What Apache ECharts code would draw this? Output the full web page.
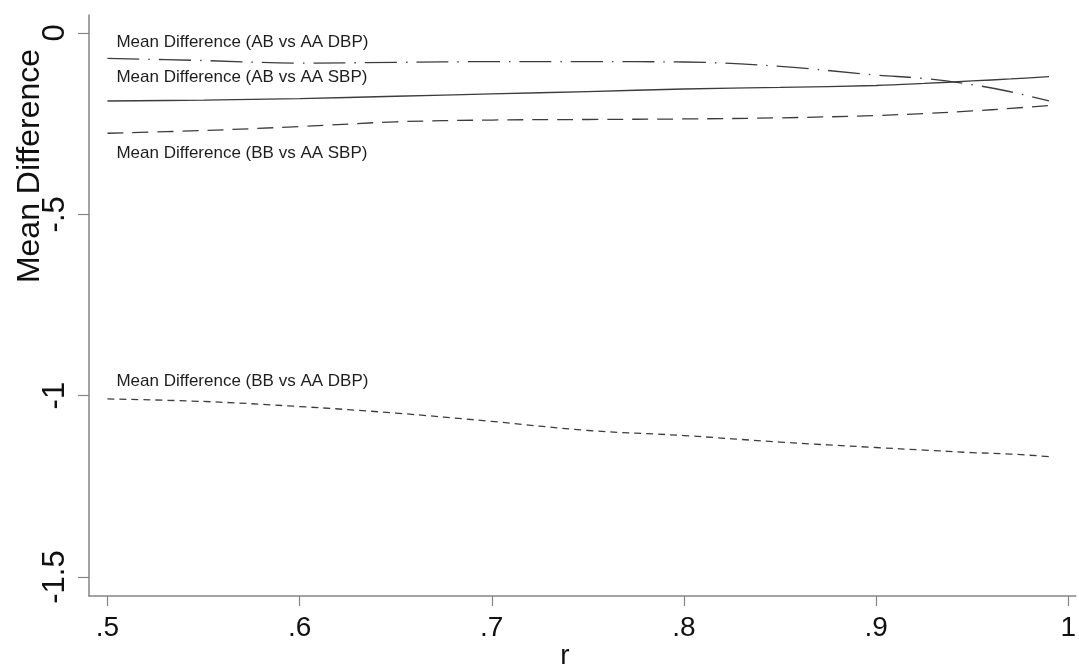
<!DOCTYPE html>
<html>
<head>
<meta charset="utf-8">
<script src="https://cdn.jsdelivr.net/npm/echarts@6/dist/echarts.min.js"></script>
<style>
html,body{margin:0;padding:0;background:#fff;}
#chart{width:1079px;height:666px;}
</style>
</head>
<body>
<div id="chart"></div>
<script>
// r values (x axis)
const rValues = [0.50, 0.55, 0.60, 0.65, 0.70, 0.75, 0.80, 0.85, 0.90, 0.925, 0.95, 0.97, 0.99];
// Mean differences
const abDBP = [-0.070, -0.076, -0.083, -0.081, -0.079, -0.079, -0.080, -0.092, -0.116, -0.1255, -0.1425, -0.162, -0.1875];
const abSBP = [-0.1875, -0.185, -0.181, -0.1745, -0.168, -0.1615, -0.1545, -0.150, -0.1448, -0.1392, -0.1323, -0.1268, -0.1205];
const bbSBP = [-0.2765, -0.269, -0.258, -0.245, -0.240, -0.2385, -0.237, -0.234, -0.2275, -0.222, -0.215, -0.208, -0.200];
const bbDBP = [-1.009, -1.016, -1.030, -1.048, -1.071, -1.096, -1.110, -1.128, -1.143, -1.150, -1.157, -1.161, -1.168];

const seriesNames = [
  'Mean Difference (AB vs AA DBP)',
  'Mean Difference (AB vs AA SBP)',
  'Mean Difference (BB vs AA SBP)',
  'Mean Difference (BB vs AA DBP)'
];
const xTicks = [0.5, 0.6, 0.7, 0.8, 0.9, 1.0];
const yTicks = [0, -0.5, -1, -1.5];
const xTitle = 'r';
const yTitle = 'Mean Difference';

const FONT = "'Liberation Sans', Arial, sans-serif";
const LINE_COLOR = '#3c3c3c';
const AXIS_COLOR = '#858585';

function fmt(v) {
  let s = String(+(+v).toFixed(3));
  return s.replace('0.', '.');
}

function pairs(ys) { return rValues.map((r, i) => [r, ys[i]]); }

const styles = [
  { type: [32, 9, 1.5, 9], offset: [8.5, -16] },
  { type: 'solid', offset: [8.5, -23.5] },
  { type: [16, 9], offset: [8.5, 20] },
  { type: [7, 5], offset: [8.5, -17.5] }
];
const allData = [abDBP, abSBP, bbSBP, bbDBP];

const series = allData.map((ys, i) => ({
  name: seriesNames[i],
  type: 'line',
  data: pairs(ys),
  showSymbol: false,
  symbol: 'none',
  smooth: 0.35,
  lineStyle: { color: LINE_COLOR, width: 1.3, type: styles[i].type },
  silent: true,
  animation: false,
  markPoint: {
    silent: true,
    animation: false,
    symbol: 'circle',
    symbolSize: 1,
    itemStyle: { color: 'rgba(0,0,0,0)' },
    data: [{
      coord: [rValues[0], ys[0]],
      label: {
        show: true,
        formatter: seriesNames[i],
        position: 'right',
        distance: 0,
        offset: styles[i].offset,
        align: 'left',
        verticalAlign: 'middle',
        color: '#1e1e1e',
        fontFamily: FONT,
        fontSize: 17
      }
    }]
  }
}));

const chart = echarts.init(document.getElementById('chart'), null, { renderer: 'canvas' });
chart.setOption({
  backgroundColor: '#ffffff',
  animation: false,
  grid: { left: 89, top: 15, right: 0, bottom: 70, containLabel: false },
  xAxis: {
    type: 'value',
    min: 0.4904,
    max: 1.0039,
    axisLine: { show: true, onZero: false, lineStyle: { color: AXIS_COLOR, width: 1.5 } },
    axisTick: { show: true, length: 10, customValues: xTicks, lineStyle: { color: AXIS_COLOR, width: 1.2 } },
    axisLabel: { customValues: xTicks, formatter: fmt, margin: 18, color: '#111', fontFamily: FONT, fontSize: 28 },
    splitLine: { show: false }
  },
  yAxis: {
    type: 'value',
    min: -1.5524,
    max: 0.0496,
    axisLine: { show: true, onZero: false, lineStyle: { color: AXIS_COLOR, width: 1.5 } },
    axisTick: { show: true, length: 11, customValues: yTicks, lineStyle: { color: AXIS_COLOR, width: 1.2 } },
    axisLabel: { customValues: yTicks, formatter: fmt, rotate: 90, margin: 18, color: '#111', fontFamily: FONT, fontSize: 31 },
    splitLine: { show: false }
  },
  graphic: [
    {
      type: 'text', x: 30, y: 166, rotation: Math.PI / 2,
      style: { text: yTitle, font: '32px ' + FONT, fill: '#111', align: 'center', verticalAlign: 'middle', textAlign: 'center', textVerticalAlign: 'middle' }
    },
    {
      type: 'text', x: 565, y: 656,
      style: { text: xTitle, font: '28px ' + FONT, fill: '#111', align: 'center', verticalAlign: 'middle', textAlign: 'center', textVerticalAlign: 'middle' }
    }
  ],
  series: series
});
</script>
</body>
</html>
